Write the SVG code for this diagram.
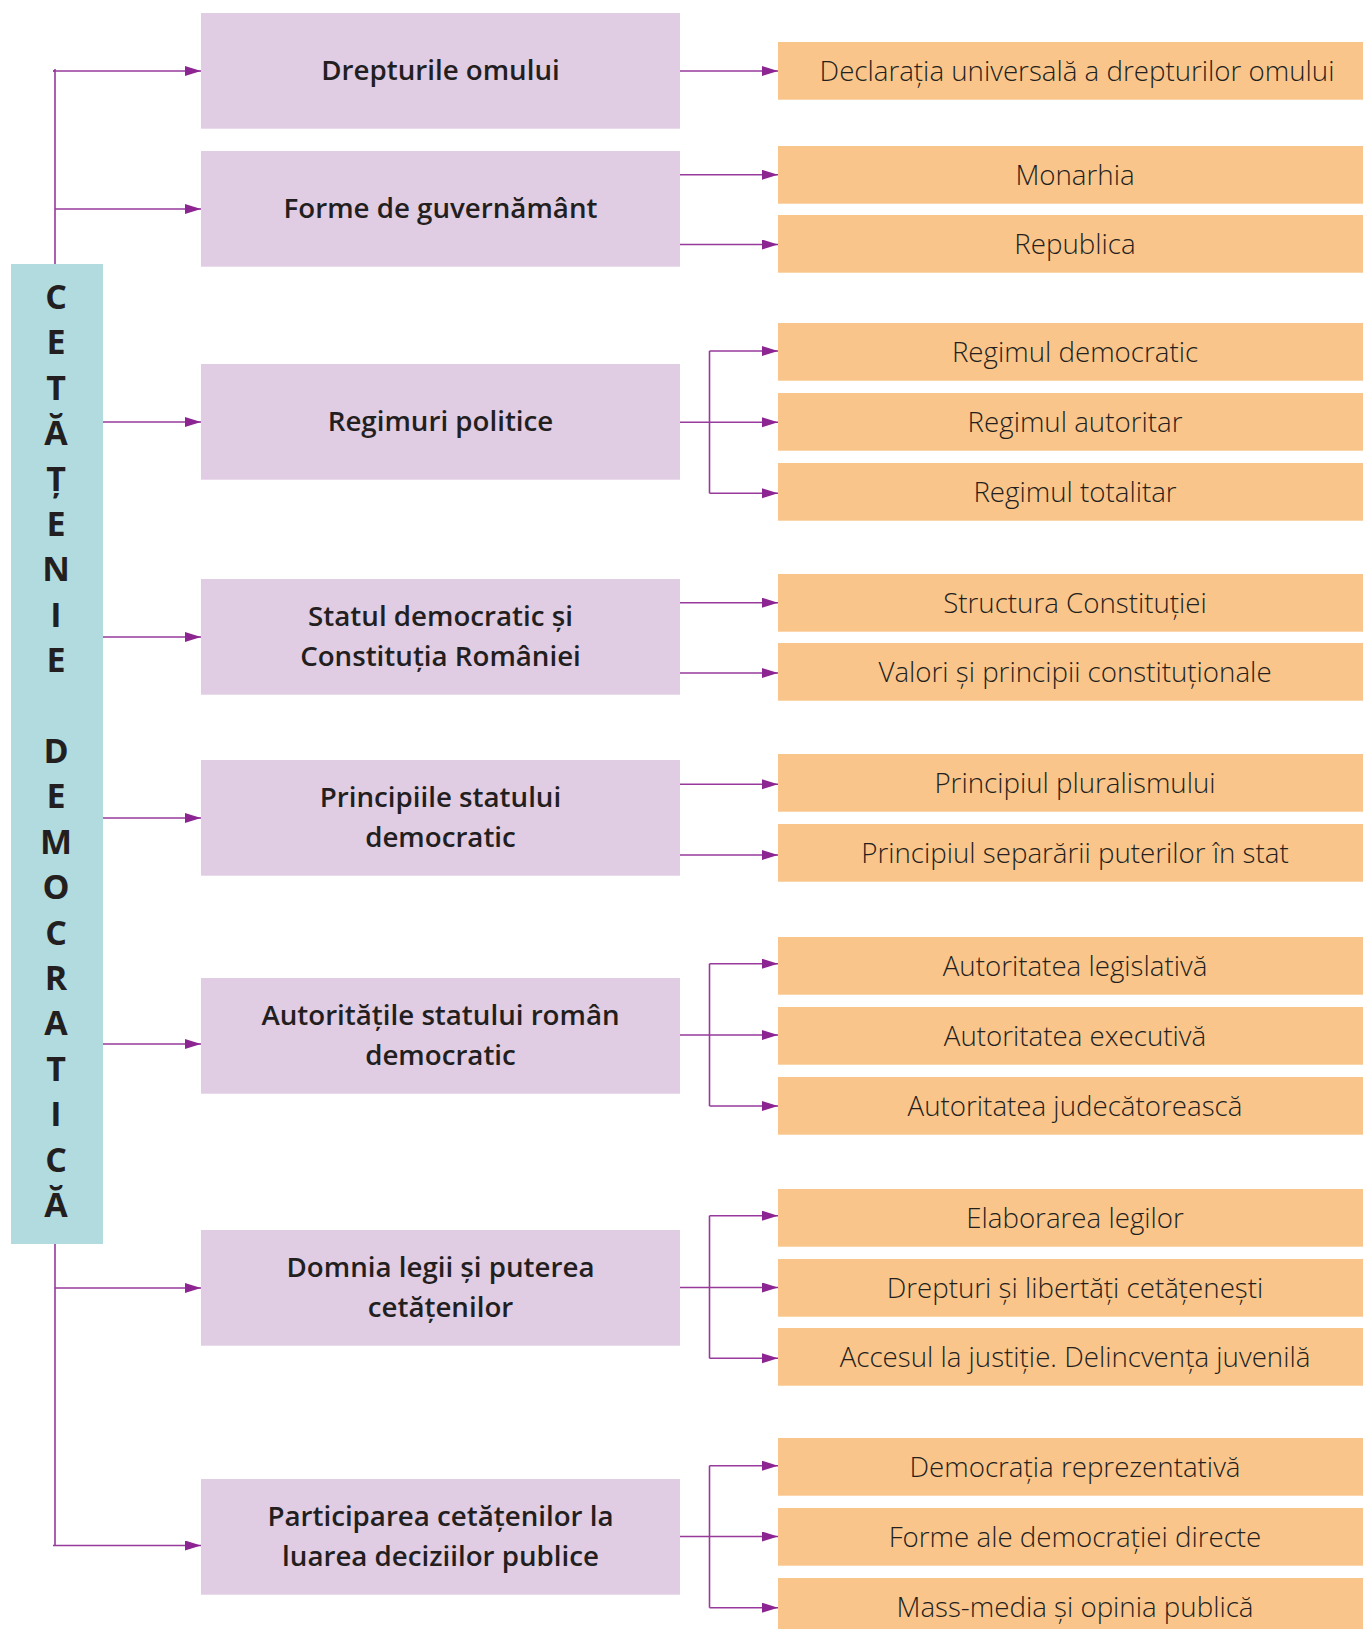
<svg xmlns="http://www.w3.org/2000/svg" width="1363" height="1629" viewBox="0 0 1363 1629">
<defs>
<marker id="ah" markerUnits="userSpaceOnUse" markerWidth="17" markerHeight="11" refX="16" refY="5" orient="auto"><path d="M0,0 L16,5 L0,10 Z" fill="#8c2592"/></marker>
<style>
.p{fill:#e0cce3}
.o{fill:#fac58a}
.t{fill:#b2dbdf}
.pt{font-family:"Open Sans","Noto Sans",sans-serif;font-weight:600;font-size:27.7px;fill:#231f20;text-anchor:middle;font-stretch:95%}
.ot{font-family:"Open Sans","Noto Sans",sans-serif;font-weight:300;font-size:27.7px;fill:#231f20;text-anchor:middle}
.lt{font-family:"Open Sans","Noto Sans",sans-serif;font-weight:700;font-size:34px;fill:#231f20;text-anchor:middle}
.c{fill:none;stroke:#973a9b;stroke-width:1.6}
.a{marker-end:url(#ah)}
</style>
</defs>
<rect width="1363" height="1629" fill="#ffffff"/>

<g id="connectors">
<path class="c" d="M55,69 V264 M55,1244 V1546 M53,71 H55"/>
<path class="c a" d="M53,71 H201"/>
<path class="c a" d="M55,209 H201"/>
<path class="c a" d="M103,422 H201"/>
<path class="c a" d="M103,637 H201"/>
<path class="c a" d="M103,818 H201"/>
<path class="c a" d="M103,1044 H201"/>
<path class="c a" d="M55,1288 H201"/>
<path class="c a" d="M53,1545.5 H201"/>

<path class="c a" d="M680,71 H778"/>
<path class="c a" d="M680,174.8 H778"/>
<path class="c a" d="M680,244.5 H778"/>

<path class="c" d="M709.5,351 V493.3"/>
<path class="c a" d="M680,422.3 H778"/>
<path class="c a" d="M709.5,351 H778"/>
<path class="c a" d="M709.5,493.3 H778"/>

<path class="c a" d="M680,602.7 H778"/>
<path class="c a" d="M680,673 H778"/>

<path class="c a" d="M680,784.3 H778"/>
<path class="c a" d="M680,855 H778"/>

<path class="c" d="M709.5,963.7 V1106"/>
<path class="c a" d="M680,1035 H778"/>
<path class="c a" d="M709.5,963.7 H778"/>
<path class="c a" d="M709.5,1106 H778"/>

<path class="c" d="M709.5,1215.7 V1358.3"/>
<path class="c a" d="M680,1287.5 H778"/>
<path class="c a" d="M709.5,1215.7 H778"/>
<path class="c a" d="M709.5,1358.3 H778"/>

<path class="c" d="M709.5,1465.7 V1607.7"/>
<path class="c a" d="M680,1536.5 H778"/>
<path class="c a" d="M709.5,1465.7 H778"/>
<path class="c a" d="M709.5,1607.7 H778"/>
</g>

<g id="root">
<rect class="t" x="11" y="264" width="92" height="980"/>
<text class="lt" x="56"><tspan x="56" y="309">C</tspan><tspan x="56" y="354.4">E</tspan><tspan x="56" y="399.8">T</tspan><tspan x="56" y="445.2">Ă</tspan><tspan x="56" y="490.6">Ț</tspan><tspan x="56" y="536">E</tspan><tspan x="56" y="581.4">N</tspan><tspan x="56" y="626.8">I</tspan><tspan x="56" y="672.2">E</tspan><tspan x="56" y="763">D</tspan><tspan x="56" y="808.4">E</tspan><tspan x="56" y="853.8">M</tspan><tspan x="56" y="899.2">O</tspan><tspan x="56" y="944.6">C</tspan><tspan x="56" y="990">R</tspan><tspan x="56" y="1035.4">A</tspan><tspan x="56" y="1080.8">T</tspan><tspan x="56" y="1126.2">I</tspan><tspan x="56" y="1171.6">C</tspan><tspan x="56" y="1217">Ă</tspan></text>
</g>

<g id="n1"><rect class="p" x="201" y="13" width="479" height="115.7"/><text class="pt" x="440.5" y="80">Drepturile omului</text></g>
<g id="n2"><rect class="p" x="201" y="151" width="479" height="115.7"/><text class="pt" x="440.5" y="218">Forme de guvernământ</text></g>
<g id="n3"><rect class="p" x="201" y="364" width="479" height="115.7"/><text class="pt" x="440.5" y="431">Regimuri politice</text></g>
<g id="n4"><rect class="p" x="201" y="579" width="479" height="115.7"/><text class="pt" x="440.5" y="625.5">Statul democratic și</text><text class="pt" x="440.5" y="665.5">Constituția României</text></g>
<g id="n5"><rect class="p" x="201" y="760" width="479" height="115.7"/><text class="pt" x="440.5" y="806.5">Principiile statului</text><text class="pt" x="440.5" y="846.5">democratic</text></g>
<g id="n6"><rect class="p" x="201" y="978" width="479" height="115.7"/><text class="pt" x="440.5" y="1024.5">Autoritățile statului român</text><text class="pt" x="440.5" y="1064.5">democratic</text></g>
<g id="n7"><rect class="p" x="201" y="1230" width="479" height="115.7"/><text class="pt" x="440.5" y="1276.5">Domnia legii și puterea</text><text class="pt" x="440.5" y="1316.5">cetățenilor</text></g>
<g id="n8"><rect class="p" x="201" y="1479" width="479" height="115.7"/><text class="pt" x="440.5" y="1525.5">Participarea cetățenilor la</text><text class="pt" x="440.5" y="1565.5">luarea deciziilor publice</text></g>

<g id="o1"><rect class="o" x="778" y="42" width="585" height="57.7"/><text class="ot" x="1077" y="80.5">Declarația universală a drepturilor omului</text></g>
<g id="o2"><rect class="o" x="778" y="146" width="585" height="57.7"/><text class="ot" x="1075" y="184.5">Monarhia</text></g>
<g id="o3"><rect class="o" x="778" y="215" width="585" height="57.7"/><text class="ot" x="1075" y="253.5">Republica</text></g>
<g id="o4"><rect class="o" x="778" y="323" width="585" height="57.7"/><text class="ot" x="1075" y="361.5">Regimul democratic</text></g>
<g id="o5"><rect class="o" x="778" y="393" width="585" height="57.7"/><text class="ot" x="1075" y="431.5">Regimul autoritar</text></g>
<g id="o6"><rect class="o" x="778" y="463" width="585" height="57.7"/><text class="ot" x="1075" y="501.5">Regimul totalitar</text></g>
<g id="o7"><rect class="o" x="778" y="574" width="585" height="57.7"/><text class="ot" x="1075" y="612.5">Structura Constituției</text></g>
<g id="o8"><rect class="o" x="778" y="643" width="585" height="57.7"/><text class="ot" x="1075" y="681.5">Valori și principii constituționale</text></g>
<g id="o9"><rect class="o" x="778" y="754" width="585" height="57.7"/><text class="ot" x="1075" y="792.5">Principiul pluralismului</text></g>
<g id="o10"><rect class="o" x="778" y="824" width="585" height="57.7"/><text class="ot" x="1075" y="862.5">Principiul separării puterilor în stat</text></g>
<g id="o11"><rect class="o" x="778" y="937" width="585" height="57.7"/><text class="ot" x="1075" y="975.5">Autoritatea legislativă</text></g>
<g id="o12"><rect class="o" x="778" y="1007" width="585" height="57.7"/><text class="ot" x="1075" y="1045.5">Autoritatea executivă</text></g>
<g id="o13"><rect class="o" x="778" y="1077" width="585" height="57.7"/><text class="ot" x="1075" y="1115.5">Autoritatea judecătorească</text></g>
<g id="o14"><rect class="o" x="778" y="1189" width="585" height="57.7"/><text class="ot" x="1075" y="1227.5">Elaborarea legilor</text></g>
<g id="o15"><rect class="o" x="778" y="1259" width="585" height="57.7"/><text class="ot" x="1075" y="1297.5">Drepturi și libertăți cetățenești</text></g>
<g id="o16"><rect class="o" x="778" y="1328" width="585" height="57.7"/><text class="ot" x="1075" y="1366.5">Accesul la justiție. Delincvența juvenilă</text></g>
<g id="o17"><rect class="o" x="778" y="1438" width="585" height="57.7"/><text class="ot" x="1075" y="1476.5">Democrația reprezentativă</text></g>
<g id="o18"><rect class="o" x="778" y="1508" width="585" height="57.7"/><text class="ot" x="1075" y="1546.5">Forme ale democrației directe</text></g>
<g id="o19"><rect class="o" x="778" y="1578" width="585" height="51"/><text class="ot" x="1075" y="1616.5">Mass-media și opinia publică</text></g>
</svg>
